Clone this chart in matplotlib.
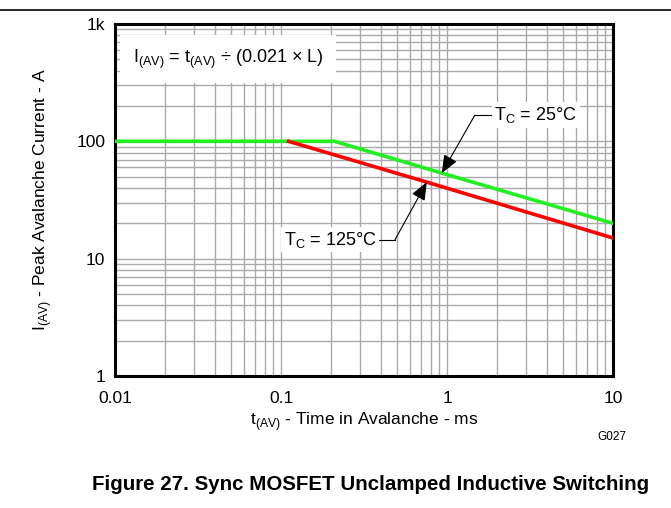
import matplotlib
matplotlib.use("Agg")
import matplotlib.pyplot as plt
from matplotlib.ticker import FixedLocator, LogLocator, NullFormatter

plt.rcParams['font.family'] = ['Liberation Sans', 'DejaVu Sans']
plt.rcParams['mathtext.fontset'] = 'custom'
plt.rcParams['mathtext.rm'] = 'Liberation Sans'

# datos
t_25 = [0.01, 0.21, 0.93, 4.0, 10]
i_25 = [100, 100, 53.6, 29.3, 20]
t_125 = [0.111, 0.755, 10]
i_125 = [100, 44.9, 15]

xticks = [0.01, 0.1, 1, 10]
xlabels = ['0.01', '0.1', '1', '10']
yticks = [1, 10, 100, 1000]
ylabels = ['1', '10', '100', '1k']

fig = plt.figure(figsize=(6.71, 5.08), dpi=100)
ax = fig.add_axes([0.1714, 0.2598, 0.7422, 0.693])

ax.set_xscale('log')
ax.set_yscale('log')
ax.set_xlim(0.01, 10)
ax.set_ylim(1, 1000)

ax.xaxis.set_major_locator(FixedLocator(xticks))
ax.yaxis.set_major_locator(FixedLocator(yticks))
ax.set_xticklabels(xlabels)
ax.set_yticklabels(ylabels)
ax.xaxis.set_minor_locator(LogLocator(base=10, subs=range(2, 10)))
ax.yaxis.set_minor_locator(LogLocator(base=10, subs=range(2, 10)))
ax.xaxis.set_minor_formatter(NullFormatter())
ax.yaxis.set_minor_formatter(NullFormatter())

ax.grid(True, which='both', color='#aaaaaa', linewidth=1.0)
ax.tick_params(which='both', length=0, labelsize=12.5)
ax.tick_params(axis='x', pad=11)
ax.tick_params(axis='y', pad=7)
for s in ax.spines.values():
    s.set_linewidth(2.2)

ax.plot(t_25, i_25, color='#22ee22', linewidth=2.6, zorder=3)
ax.plot(t_125, i_125, color='#ff0000', linewidth=2.6, zorder=3)

ax.set_xlabel(r't$_{\mathregular{(AV)}}$ - Time in Avalanche - ms', fontsize=12.5, labelpad=3)
ax.set_ylabel(r'I$_{\mathregular{(AV)}}$ - Peak Avalanche Current - A', fontsize=12.5, labelpad=16)

# formula
ax.text(0.0128, 500, r'I$_{\mathregular{(AV)}}$ = t$_{\mathregular{(AV)}}$ ÷ (0.021 × L)',
        fontsize=13, va='center', ha='left', zorder=4,
        bbox=dict(facecolor='white', edgecolor='none', pad=9))

# etiquetas con flecha
flecha = dict(arrowstyle='-|>,head_length=1.1,head_width=0.45',
              color='black', lw=0.8, shrinkA=0, shrinkB=0)
ax.plot([1.47, 1.89], [167, 167], color='black', linewidth=0.8, zorder=4)
ax.annotate('', xy=(0.93, 53.6), xytext=(1.47, 167), zorder=5, arrowprops=flecha)
ax.text(1.93, 167, r'T$_{\mathregular{C}}$ = 25°C', fontsize=13, va='center', ha='left',
        zorder=4, bbox=dict(facecolor='white', edgecolor='none', pad=2))

ax.plot([0.384, 0.486], [14.5, 14.5], color='black', linewidth=0.8, zorder=4)
ax.annotate('', xy=(0.755, 44.9), xytext=(0.486, 14.5), zorder=5, arrowprops=flecha)
ax.text(0.375, 14.5, r'T$_{\mathregular{C}}$ = 125°C', fontsize=13, va='center', ha='right',
        zorder=4, bbox=dict(facecolor='white', edgecolor='none', pad=2))

fig.text(612 / 671, 1 - 437 / 508, 'G027', fontsize=8.5, ha='center', va='center')
fig.text(371 / 671, 1 - 485 / 508, 'Figure 27. Sync MOSFET Unclamped Inductive Switching',
         fontsize=14.8, fontweight='bold', ha='center', va='center')
fig.add_artist(plt.Line2D([0, 1], [1 - 9.5 / 508, 1 - 9.5 / 508], color='black', linewidth=1.2))

fig.savefig('out.png', dpi=100)
